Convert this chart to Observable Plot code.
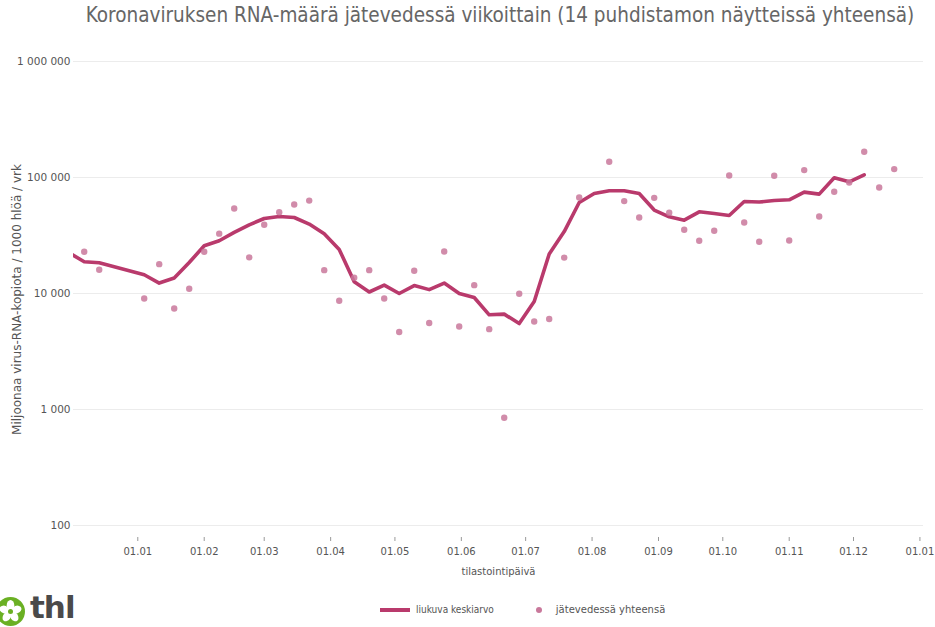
<!DOCTYPE html>
<html>
<head>
<meta charset="utf-8">
<script src="https://cdn.jsdelivr.net/npm/d3@7"></script>
<script src="https://cdn.jsdelivr.net/npm/@observablehq/plot@0.6"></script>
<style>
  body { margin: 0; background: #fff; width: 935px; height: 627px; overflow: hidden; position: relative; font-family: "DejaVu Sans", Verdana, sans-serif; }
  #title { position: absolute; left: 0; top: 3px; width: 1000px; text-align: center; white-space: nowrap; font-family: "DejaVu Sans Condensed", "DejaVu Sans", sans-serif; font-size: 20.5px; color: #666; }
  #chart { position: absolute; left: 0; top: 36px; }
  #legend { position: absolute; top: 604px; left: 380px; display: flex; align-items: center; font-size: 10px; color: #555; white-space: nowrap; }
  #legend .t1 { font-family: "DejaVu Sans Condensed", "DejaVu Sans", sans-serif; }
  #legend .t2 { font-family: "DejaVu Sans", sans-serif; }
  #legend .sw-line { width: 30px; height: 4px; background: #b93a6c; margin-right: 6px; }
  #legend .sw-dot { width: 6px; height: 6px; border-radius: 50%; background: #c9789b; margin: 0 14px 0 42px; }
  #logo-mark { position: absolute; left: -5px; top: 596px; }
  #logo-text { position: absolute; left: 30px; top: 588px; font-family: "DejaVu Sans", sans-serif; font-weight: bold; font-size: 31px; color: #4a4a4a; letter-spacing: -1px; line-height: 38px; white-space: nowrap; }
</style>
</head>
<body>
<div id="title">Koronaviruksen RNA-määrä jätevedessä viikoittain (14 puhdistamon näytteissä yhteensä)</div>
<div id="chart"></div>
<div id="legend"><div class="sw-line"></div><div class="t1">liukuva keskiarvo</div><div class="sw-dot"></div><div class="t2">jätevedessä yhteensä</div></div>
<svg id="logo-mark" width="31" height="31" viewBox="-15.5 -15.5 31 31">
  <circle r="14.5" fill="#6ab023"/>
  <g fill="#fff">
    <ellipse cx="0" cy="-6.2" rx="3.8" ry="5.2"/>
    <ellipse cx="0" cy="-6.2" rx="3.8" ry="5.2" transform="rotate(72)"/>
    <ellipse cx="0" cy="-6.2" rx="3.8" ry="5.2" transform="rotate(144)"/>
    <ellipse cx="0" cy="-6.2" rx="3.8" ry="5.2" transform="rotate(216)"/>
    <ellipse cx="0" cy="-6.2" rx="3.8" ry="5.2" transform="rotate(288)"/>
  </g>
  <circle r="2.5" fill="#6ab023"/>
</svg>
<div id="logo-text">thl</div>
<script>
// Weekly sampling dates
const weeks = [
  "2021-11-30","2021-12-07","2021-12-14","2021-12-21","2021-12-28",
  "2022-01-04","2022-01-11","2022-01-18","2022-01-25","2022-02-01",
  "2022-02-08","2022-02-15","2022-02-22","2022-03-01","2022-03-08",
  "2022-03-15","2022-03-22","2022-03-29","2022-04-05","2022-04-12",
  "2022-04-19","2022-04-26","2022-05-03","2022-05-10","2022-05-17",
  "2022-05-24","2022-05-31","2022-06-07","2022-06-14","2022-06-21",
  "2022-06-28","2022-07-05","2022-07-12","2022-07-19","2022-07-26",
  "2022-08-02","2022-08-09","2022-08-16","2022-08-23","2022-08-30",
  "2022-09-06","2022-09-13","2022-09-20","2022-09-27","2022-10-04",
  "2022-10-11","2022-10-18","2022-10-25","2022-11-01","2022-11-08",
  "2022-11-15","2022-11-22","2022-11-29","2022-12-06","2022-12-13",
  "2022-12-20"
];
// jätevedessä yhteensä (weekly total)
const totals = [
  null, 22900, 16000, null, null,
  9060, 17900, 7420, 11000, 22900,
  32800, 54100, 20500, 39100, 50100,
  58500, 63200, 15900, 8650, 13700,
  15900, 9060, 4650, 15700, 5560,
  23000, 5190, 11800, 4930, 850,
  9940, 5740, 6020, 20400, 67200,
  null, 136600, 62600, 45200, 66800,
  49600, 35400, 28500, 34700, 104000,
  40900, 27900, 103400, 28600, 115800,
  46100, 75300, 90600, 166600, 82000,
  118200
];
// liukuva keskiarvo (moving average)
const movingAvg = [
  22400, 18800, 18400, null, null,
  14500, 12300, 13600, 18500, 25800,
  28500, 33600, 39100, 44300, 46100,
  45200, 39700, 32700, 24000, 12600,
  10300, 11800, 10000, 11700, 10800,
  12300, 10000, 9240, 6550, 6640,
  5510, 8530, 21900, 34200, 60900,
  72800, 76800, 76800, 72800, 52400,
  45800, 42900, 50600, 48900, 47000,
  62100, 61400, 63300, 64200, 74800,
  71900, 99400, 91800, 105500, null,
  null
];
const yTicks = [100, 1000, 10000, 100000, 1000000];
const xTicks = ["2022-01-01","2022-02-01","2022-03-01","2022-04-01","2022-05-01","2022-06-01",
  "2022-07-01","2022-08-01","2022-09-01","2022-10-01","2022-11-01","2022-12-01","2023-01-01"];
const xDomain = ["2021-12-02", "2023-01-05"];
const yDomain = [78.8, 1000000];

const parse = d3.utcParse("%Y-%m-%d");
const rows = weeks.map((w, i) => ({date: parse(w), total: totals[i], avg: movingAvg[i]}));
const lineRows = rows.filter(d => d.avg != null);
const dotRows = rows.filter(d => d.total != null);
const fmtY = d => d3.format(",")(d).replace(/,/g, " ");
const fmtX = d3.utcFormat("%d.%m");

const chart = Plot.plot({
  width: 935,
  height: 544,
  marginLeft: 73,
  marginRight: 12,
  marginTop: 25,
  marginBottom: 43,
  style: { fontFamily: "DejaVu Sans, Verdana, sans-serif", background: "#fff" },
  x: { type: "utc", domain: xDomain.map(parse), range: [73, 928] },
  y: { type: "log", domain: yDomain },
  marks: [
    Plot.gridY(yTicks, { stroke: "#ececec", strokeOpacity: 1, strokeWidth: 1 }),
    Plot.axisY({
      ticks: yTicks, tickSize: 0, tickPadding: 3, tickFormat: fmtY,
      fontSize: 10.5, fill: "#555"
    }),
    Plot.axisY({
      ticks: [], tickSize: 0,
      label: "Miljoonaa virus-RNA-kopiota / 1000 hlöä / vrk",
      labelAnchor: "center", labelOffset: 61, labelArrow: "none",
      fontSize: 12, fill: "#555"
    }),
    Plot.axisX({
      ticks: xTicks.map(parse), tickSize: 4, tickPadding: 6, tickFormat: fmtX,
      stroke: "#999", fontSize: 10, fill: "#555",
      label: "tilastointipäivä", labelAnchor: "center", labelOffset: 37, labelArrow: "none"
    }),
    Plot.line(lineRows, { x: "date", y: "avg", stroke: "#b93a6c", strokeWidth: 3.6, curve: "linear", clip: true }),
    Plot.dot(dotRows, { x: "date", y: "total", r: 3.2, fill: "#c9789b", fillOpacity: 0.85, stroke: "none" })
  ]
});
document.getElementById("chart").appendChild(chart);
</script>
</body>
</html>
